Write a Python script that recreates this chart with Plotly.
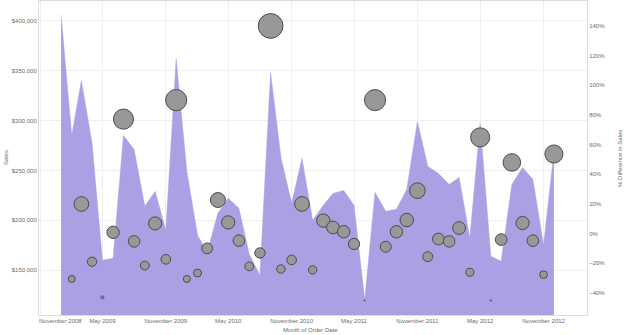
import plotly.graph_objects as go
import pandas as pd
import numpy as np

months = pd.date_range("2009-01-01", periods=48, freq="MS")

sales = [406000, 285000, 340000, 277000, 160000, 162000, 285000, 271000, 214000, 229000,
         190000, 362000, 249000, 185000, 168000, 207000, 222000, 212000, 166000, 145000,
         348000, 263000, 217000, 262000, 200000, 215000, 227000, 230000, 215000, 120000,
         228000, 209000, 211000, 231000, 299000, 254000, 247000, 236000, 243000, 182000,
         297000, 164000, 159000, 236000, 253000, 241000, 175000, 268000]

pct_diff = [None, -30.5, 20.0, -18.9, -42.9, 0.9, 77.2, -5.2, -21.5, 6.9,
            -17.3, 90.0, -30.5, -26.5, -9.9, 22.7, 7.6, -4.7, -22.0, -13.0,
            140.0, -23.8, -17.7, 20.0, -24.4, 8.8, 4.2, 1.3, -6.9, -45.0,
            90.0, -8.8, 1.3, 9.2, 29.0, -15.5, -3.6, -5.2, 3.8, -26.0,
            64.9, -45.0, -4.0, 48.0, 7.2, -4.7, -27.6, 53.7]

tick_dates = ["2008-11-01", "2009-05-01", "2009-11-01", "2010-05-01", "2010-11-01",
              "2011-05-01", "2011-11-01", "2012-05-01", "2012-11-01"]
tick_labels = ["November 2008", "May 2009", "November 2009", "May 2010", "November 2010",
               "May 2011", "November 2011", "May 2012", "November 2012"]

# bubble size: area proportional to value above the minimum
pmin = min(p for p in pct_diff if p is not None)
sizes = [0 if p is None else float(np.sqrt(3.3 * (p - pmin + 0.5))) for p in pct_diff]

font_family = "Liberation Sans, Arial, sans-serif"
txt = "#6b6b6b"

fig = go.Figure()
fig.add_trace(go.Scatter(
    x=months, y=sales, mode="lines", fill="tozeroy",
    line=dict(color="rgb(171,160,227)", width=0.5),
    fillcolor="rgb(171,160,227)", hoverinfo="skip", showlegend=False,
    yaxis="y",
))
fig.add_trace(go.Scatter(
    x=months, y=pct_diff, mode="markers",
    marker=dict(size=sizes, color="rgb(152,152,152)",
                line=dict(color="rgb(75,75,75)", width=1), opacity=1),
    showlegend=False, yaxis="y2",
))

# first tick label is drawn left-aligned (as in the reference) via an annotation
shown_text = [""] + tick_labels[1:]

fig.update_layout(
    width=624, height=335,
    margin=dict(l=39, r=37, t=1, b=20),
    paper_bgcolor="white", plot_bgcolor="white",
    font=dict(family=font_family, size=6, color=txt),
    xaxis=dict(
        type="date", range=["2008-10-29", "2013-03-07"],
        tickvals=tick_dates, ticktext=shown_text,
        showgrid=True, gridcolor="#efefef", gridwidth=1,
        showline=True, linecolor="#dcdcdc", linewidth=1, mirror=True,
        ticks="", tickfont=dict(size=6, color=txt), zeroline=False,
    ),
    yaxis=dict(
        range=[105000, 420000], tick0=0, dtick=50000,
        tickprefix="$", tickformat=",d",
        showgrid=True, gridcolor="#efefef", gridwidth=1,
        showline=True, linecolor="#dcdcdc", linewidth=1,
        ticks="", tickfont=dict(size=6, color=txt), zeroline=False,
    ),
    yaxis2=dict(
        overlaying="y", side="right",
        range=[-54.8, 156.8], tick0=0, dtick=20, ticksuffix="%",
        showgrid=False, zeroline=False,
        showline=True, linecolor="#dcdcdc", linewidth=1,
        ticks="", tickfont=dict(size=6, color=txt),
    ),
    annotations=[
        dict(text=tick_labels[0], xref="x", yref="paper", x=tick_dates[0], y=-0.003,
             showarrow=False, xanchor="left", yanchor="top", xshift=-3,
             font=dict(size=6, color=txt)),
        dict(text="Sales", xref="paper", yref="paper", x=-0.060, y=0.5,
             textangle=-90, showarrow=False, xanchor="center", yanchor="middle",
             font=dict(size=6, color=txt)),
        dict(text="% Difference in Sales", xref="paper", yref="paper", x=1.060, y=0.5,
             textangle=-90, showarrow=False, xanchor="center", yanchor="middle",
             font=dict(size=6, color=txt)),
        dict(text="Month of Order Date", xref="paper", yref="paper", x=0.496, y=-0.048,
             showarrow=False, xanchor="center", yanchor="middle",
             font=dict(size=6, color=txt)),
    ],
)

fig.write_html("out.html")
